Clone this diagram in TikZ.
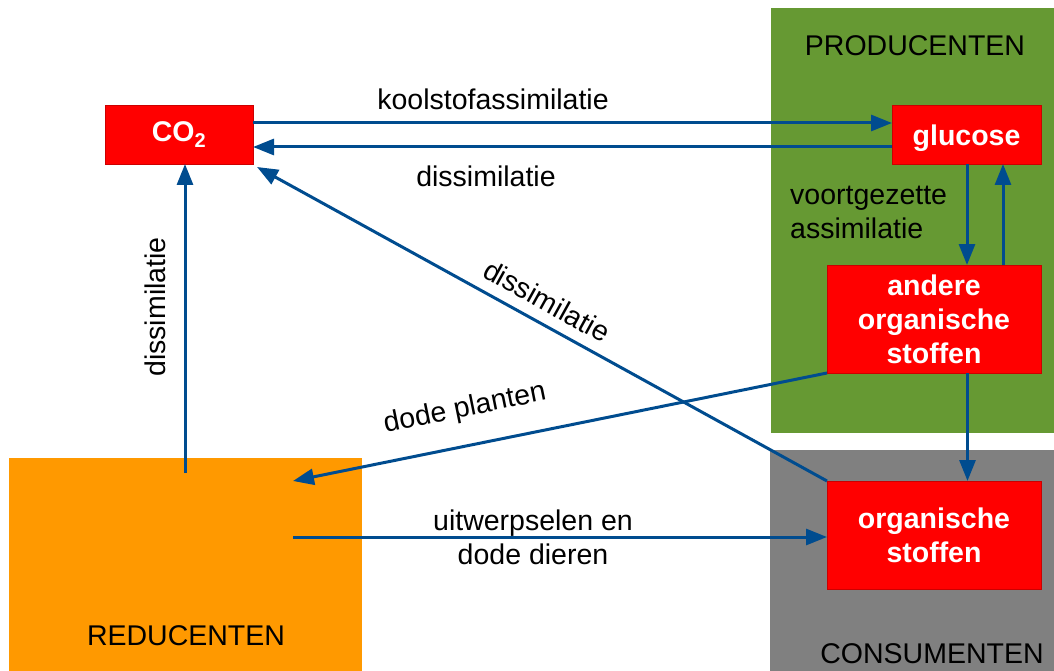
\documentclass[tikz,border=0pt]{standalone}
\usepackage{fontspec}
\setmainfont{Liberation Sans}
\usetikzlibrary{arrows.meta}
\definecolor{prodgreen}{HTML}{669933}
\definecolor{consgray}{HTML}{808080}
\definecolor{redorange}{HTML}{FF9900}
\definecolor{boxred}{HTML}{FF0000}
\definecolor{arrowblue}{HTML}{004C8F}
\tikzset{
  region/.style={draw=none, inner sep=0pt, outer sep=0pt},
  redbox/.style={fill=boxred, draw=boxred!80!black, line width=0.6pt, inner sep=0pt, outer sep=0pt,
    text=white, font=\fontsize{28.5}{34}\selectfont\bfseries, align=center},
  flow/.style={draw=arrowblue, line width=3pt, -{Triangle[length=21pt,width=16pt]}},
  lbl/.style={font=\fontsize{28.5}{34}\selectfont, inner sep=0pt, align=center},
  rlbl/.style={font=\fontsize{28.5}{34}\selectfont, inner sep=0pt},
}
\begin{document}
\begin{tikzpicture}[x=1pt,y=-1pt]
\useasboundingbox (0,0) rectangle (1054,671);
% regions
\node[region, fill=prodgreen, minimum width=284pt, minimum height=425pt] (prod) at (913,220.5) {};
\node[region, fill=consgray, minimum width=285pt, minimum height=221pt] (cons) at (912.5,560.5) {};
\node[region, fill=redorange, minimum width=353pt, minimum height=213pt] (red) at (185.5,564.5) {};
\node[rlbl, anchor=base] (prodlbl) at (915,56) {PRODUCENTEN};
\node[rlbl, anchor=base] (conslbl) at (932,663) {CONSUMENTEN};
\node[rlbl, anchor=base] (redlbl) at (186,645) {REDUCENTEN};
% boxes
\node[redbox, minimum width=148pt, minimum height=59pt] (co2) at (179,134.5) {CO\textsubscript{2}};
\node[redbox, minimum width=149pt, minimum height=59pt] (glu) at (966.5,134.5) {\raisebox{-4pt}[\height][\depth]{glucose}};
\node[redbox, minimum width=214pt, minimum height=108pt] (and) at (934,319) {andere\\organische\\stoffen};
\node[redbox, minimum width=214pt, minimum height=108pt] (org) at (934,535) {organische\\stoffen};
% free ends
\coordinate (rin) at (293,481);
\coordinate (rout) at (293,537);
\coordinate (rup) at (185,473);
% connectors
\draw[flow] ([yshift=11.5pt]co2.east) -- ([yshift=11.5pt]glu.west);
\draw[flow] ([yshift=-12.5pt]glu.west) -- ([yshift=-12.5pt]co2.east);
\draw[flow] ([xshift=0.5pt]glu.south) -- ([xshift=0.5pt]glu.south |- and.north);
\draw[flow] ([xshift=36.5pt]glu.south |- and.north) -- ([xshift=36.5pt]glu.south);
\draw[flow] ([xshift=33.5pt]and.south) -- ([xshift=33.5pt]and.south |- org.north);
\draw[flow] (and.south west) -- (rin);
\draw[flow] (rout) -- (rout -| org.west);
\draw[flow] (rup) -- (rup |- co2.south);
\draw[flow] (org.north west) -- ([xshift=4pt,yshift=-3pt]co2.south east);
% labels
\node[lbl] (l1) at (493,99) {koolstofassimilatie};
\node[lbl] (l2) at (486,176) {dissimilatie};
\node[lbl, align=left, anchor=north west] (l3) at (790,186) {voortgezette\\assimilatie};
\node[lbl, rotate=90] (l4) at (155,307) {dissimilatie};
\node[lbl, rotate=-29] (l5) at (547,301) {dissimilatie};
\node[lbl, rotate=11.5] (l6) at (465,409) {dode planten};
\node[lbl] (l7) at (533,537) {uitwerpselen en\\dode dieren};
\end{tikzpicture}
\end{document}
